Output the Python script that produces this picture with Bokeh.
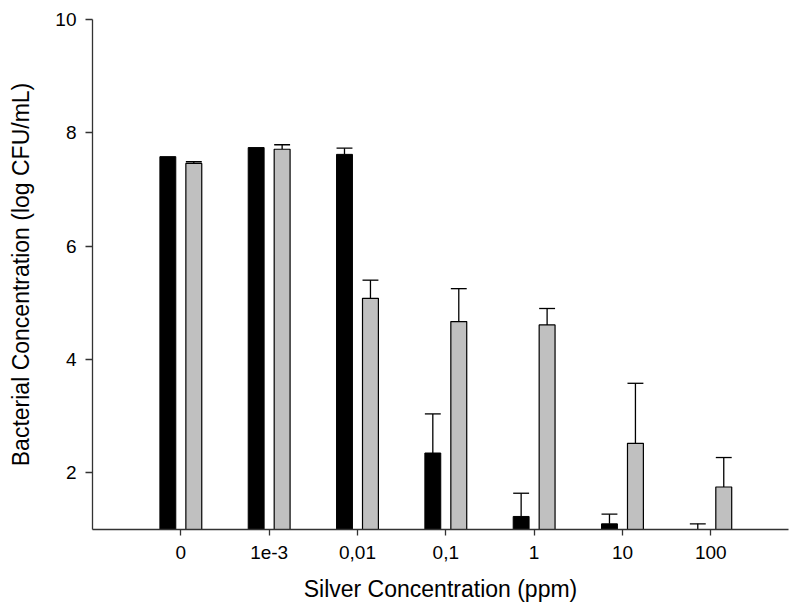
from bokeh.plotting import figure
from bokeh.models import FixedTicker, Range1d
from bokeh.embed import file_html
from bokeh.resources import INLINE

categories = ["0", "1e-3", "0,01", "0,1", "1", "10", "100"]
black_vals = [7.58, 7.74, 7.62, 2.35, 1.23, 1.10, 1.00]
black_err = [0.0, 0.0, 0.11, 0.69, 0.41, 0.17, 0.10]
gray_vals = [7.46, 7.71, 5.08, 4.67, 4.61, 2.52, 1.75]
gray_err = [0.03, 0.08, 0.32, 0.58, 0.29, 1.06, 0.52]

offset = 0.147
bw = 0.18
idx = list(range(len(categories)))
xb = [i - offset for i in idx]
xg = [i + offset for i in idx]

p = figure(width=789, height=611, output_backend="svg", toolbar_location=None,
           x_range=Range1d(-1, 6.88), y_range=Range1d(1, 10),
           min_border_left=92, min_border_right=1, min_border_top=19, min_border_bottom=82)
p.outline_line_color = None
p.grid.grid_line_color = None
p.background_fill_color = "white"
p.border_fill_color = "white"

FONT = "Liberation Sans"

def errbars(xs, vals, errs):
    x0, y0, y1, cx0, cx1, cy = [], [], [], [], [], []
    for x, v, e in zip(xs, vals, errs):
        if e <= 0:
            continue
        x0.append(x); y0.append(v); y1.append(v + e)
        cx0.append(x - bw / 2); cx1.append(x + bw / 2); cy.append(v + e)
    p.segment(x0=x0, y0=y0, x1=x0, y1=y1, line_color="black", line_width=1.3)
    p.segment(x0=cx0, y0=cy, x1=cx1, y1=cy, line_color="black", line_width=1.3)

errbars(xb, black_vals, black_err)
errbars(xg, gray_vals, gray_err)

p.vbar(x=xb, top=black_vals, bottom=1, width=bw, fill_color="black", line_color="black", line_width=1)
p.vbar(x=xg, top=gray_vals, bottom=1, width=bw, fill_color="#c0c0c0", line_color="black", line_width=1.2)

p.xaxis.ticker = FixedTicker(ticks=idx)
p.xaxis.major_label_overrides = {i: c for i, c in zip(idx, categories)}
p.yaxis.ticker = FixedTicker(ticks=[2, 4, 6, 8, 10])

for ax in (p.xaxis[0], p.yaxis[0]):
    ax.axis_line_color = "#333333"
    ax.axis_line_width = 1.3
    ax.major_tick_line_color = "#333333"
    ax.major_tick_line_width = 1.3
    ax.major_tick_in = 0
    ax.minor_tick_line_color = None
    ax.major_label_text_font = FONT
    ax.major_label_text_font_size = "19px"
    ax.major_label_text_color = "black"
    ax.axis_label_text_font = FONT
    ax.axis_label_text_font_size = "23px"
    ax.axis_label_text_font_style = "normal"
    ax.axis_label_text_color = "black"

p.xaxis.major_tick_out = 6
p.yaxis.major_tick_out = 7
p.xaxis.major_label_standoff = 10
p.yaxis.major_label_standoff = 9
p.xaxis.axis_label = "Silver Concentration (ppm)"
p.yaxis.axis_label = "Bacterial Concentration (log CFU/mL)"
p.xaxis.axis_label_standoff = 14
p.yaxis.axis_label_standoff = 18

open("out.html", "w").write(file_html(p, INLINE))
